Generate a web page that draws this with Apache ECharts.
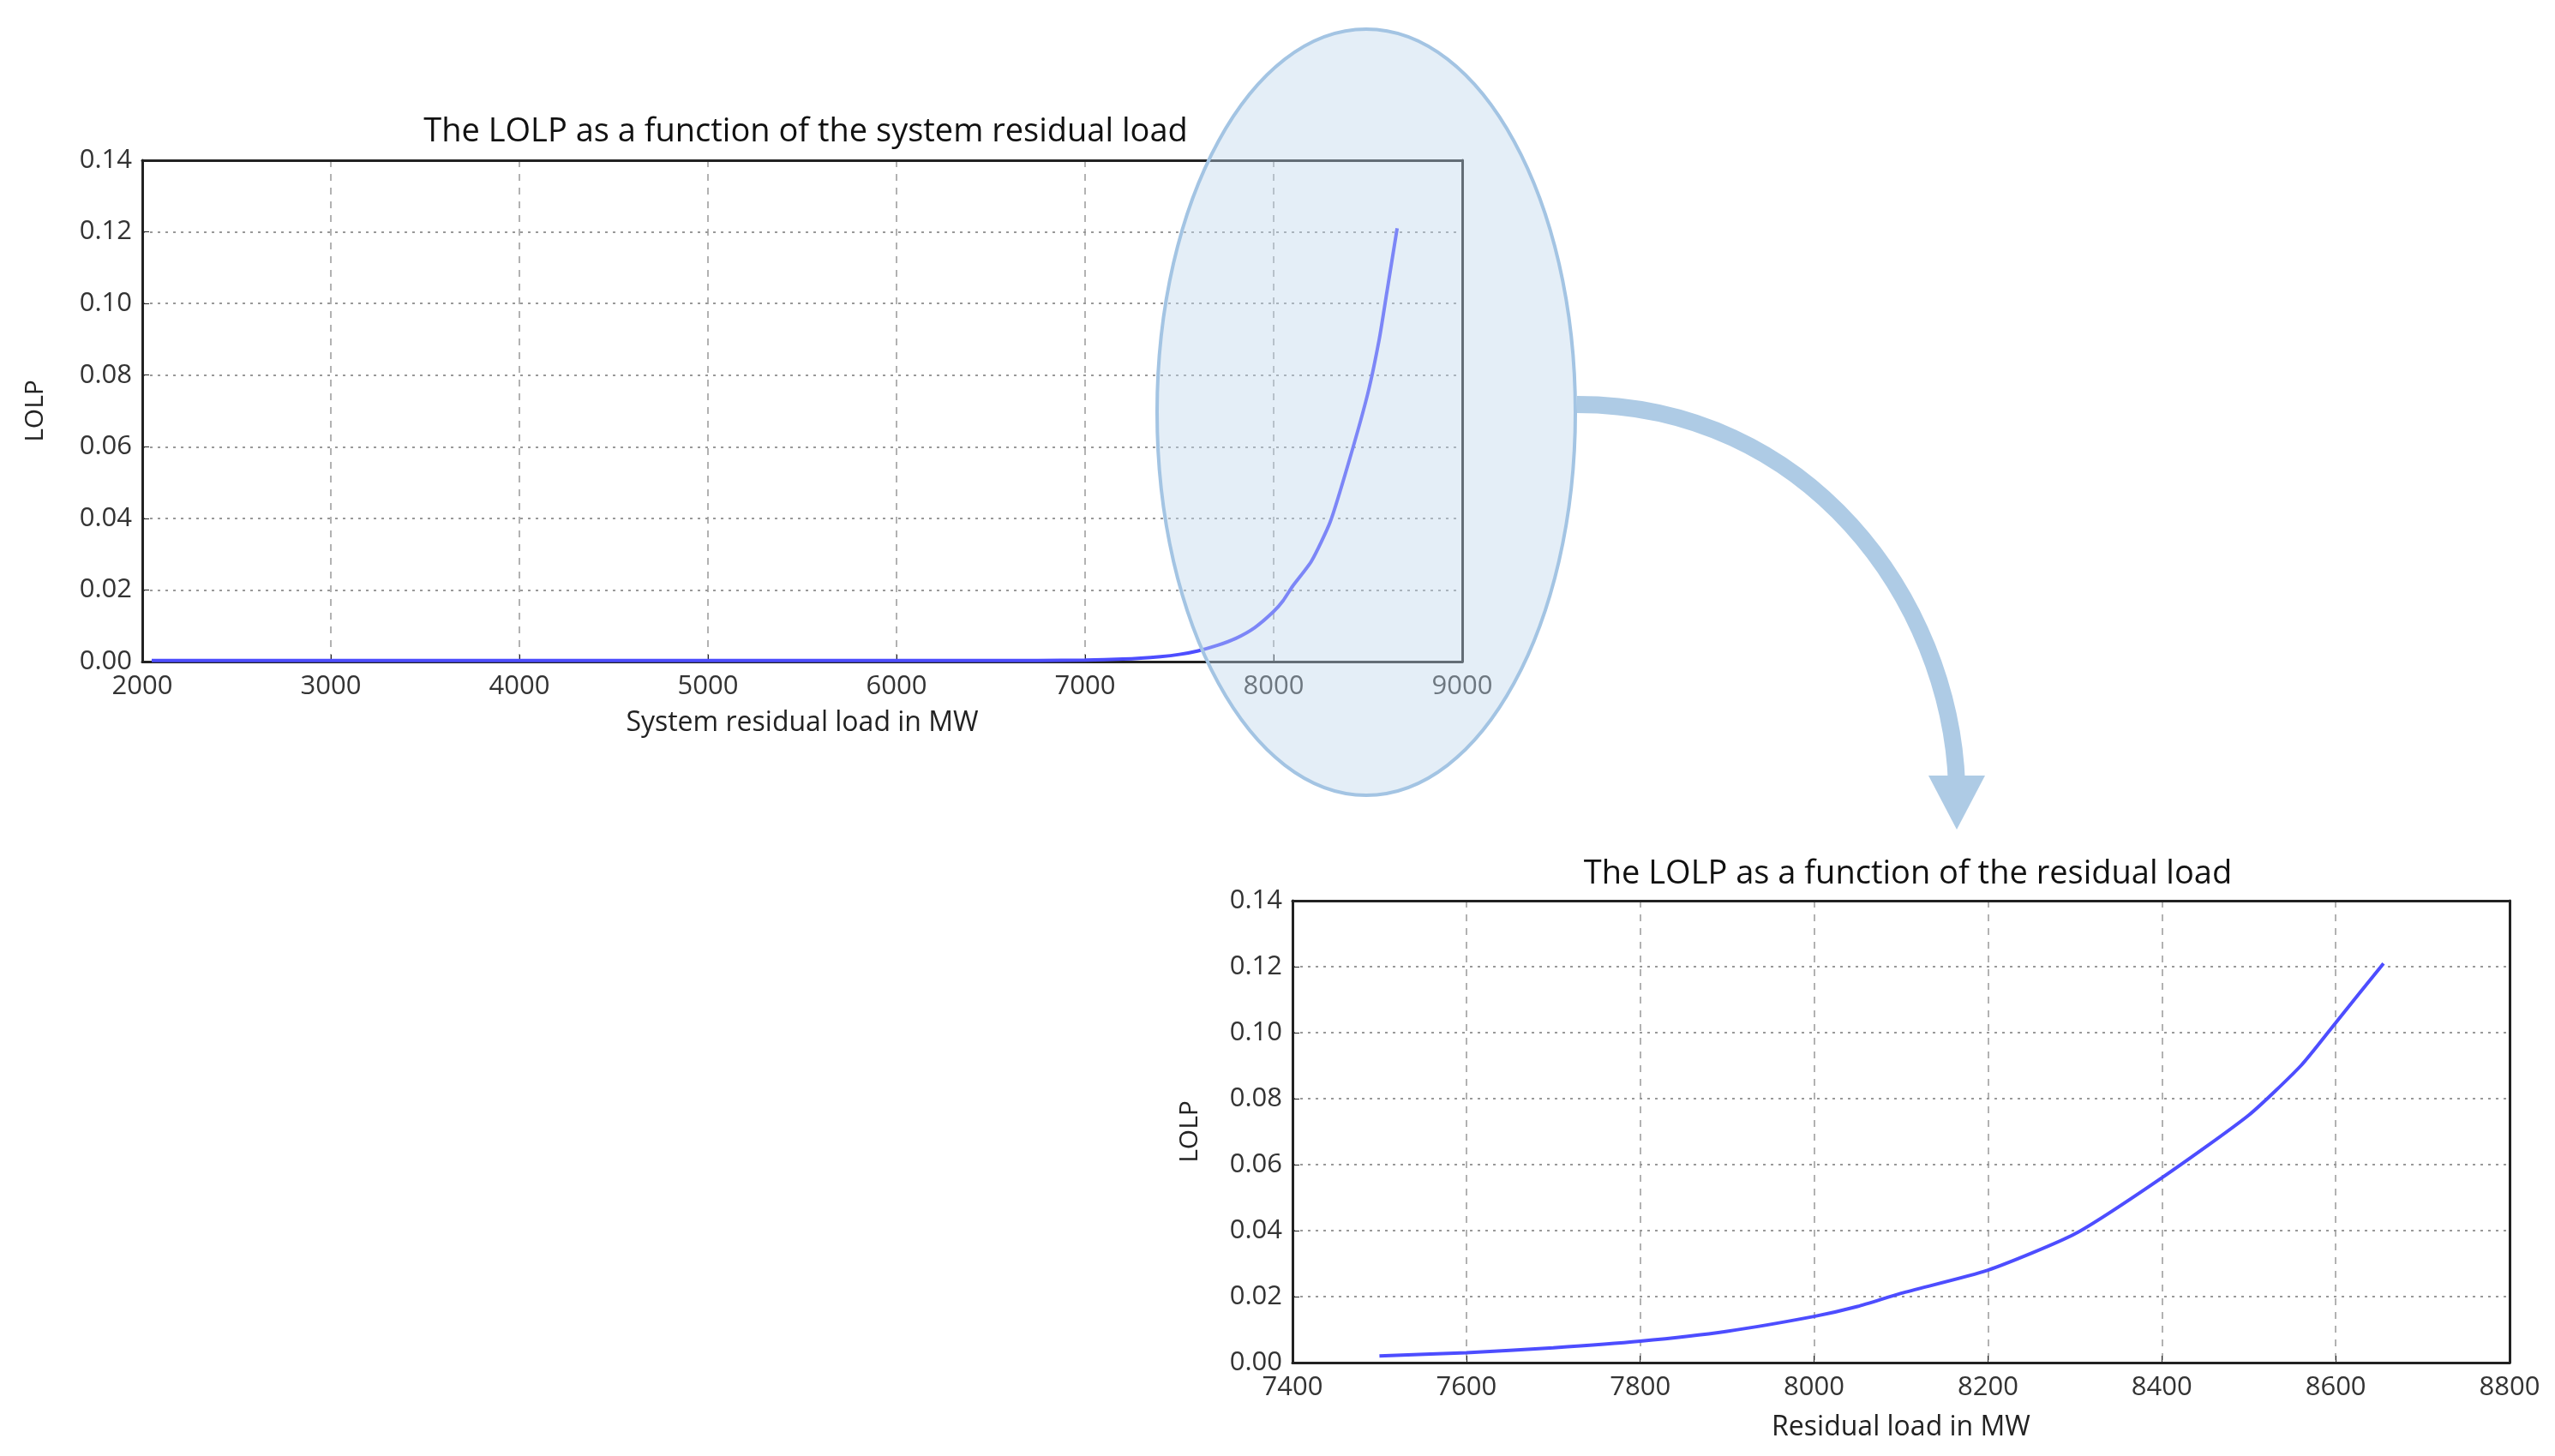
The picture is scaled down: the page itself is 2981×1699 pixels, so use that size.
<!DOCTYPE html>
<html>
<head>
<meta charset="utf-8">
<script src="https://cdn.jsdelivr.net/npm/echarts@6/dist/echarts.min.js"></script>
<style>
html, body { margin: 0; padding: 0; background: #fff; }
#main { width: 2981px; height: 1699px; }
</style>
</head>
<body>
<div id="main"></div>
<script>
// full system residual load curve (MW, LOLP)
var loadAll = [2050, 3000, 4000, 5000, 6000, 6500, 7000, 7200, 7400, 7500, 7600, 7700, 7800, 7900, 8000, 8050, 8100, 8200, 8300, 8400, 8500, 8560, 8600, 8655];
var lolpAll = [0.0003, 0.0003, 0.0003, 0.0003, 0.0003, 0.0003, 0.0004, 0.0007, 0.0014, 0.002, 0.003, 0.0045, 0.0065, 0.0095, 0.014, 0.017, 0.021, 0.028, 0.039, 0.056, 0.075, 0.09, 0.103, 0.121];
// zoomed range
var loadZoom = [7500, 7600, 7700, 7800, 7900, 8000, 8050, 8100, 8200, 8300, 8400, 8500, 8560, 8600, 8655];
var lolpZoom = [0.002, 0.003, 0.0045, 0.0065, 0.0095, 0.014, 0.017, 0.021, 0.028, 0.039, 0.056, 0.075, 0.09, 0.103, 0.121];

var titles = ['The LOLP as a function of the system residual load', 'The LOLP as a function of the residual load'];
var xNames = ['System residual load in MW', 'Residual load in MW'];

function pairs(xs, ys) {
    var out = [];
    for (var i = 0; i < xs.length; i++) out.push([xs[i], ys[i]]);
    return out;
}

var font = 'Open Sans';
var frame = { show: true, onZero: false, lineStyle: { color: '#222', width: 3 } };
function xAxis(idx, min, max, interval, gap) {
    return {
        type: 'value', gridIndex: idx, min: min, max: max, interval: interval,
        name: xNames[idx], nameLocation: 'middle', nameGap: gap,
        nameTextStyle: { fontSize: 32, color: '#222', fontFamily: font },
        axisLine: frame,
        axisTick: { inside: true, length: 8, lineStyle: { color: '#222' } },
        axisLabel: { fontSize: 31, color: '#333', fontFamily: font, margin: 14,
            formatter: function (v) { return String(v); } },
        splitLine: { show: true, lineStyle: { color: '#999', type: [8, 8], width: 1.5 } }
    };
}
function yAxis(idx, gap) {
    return {
        type: 'value', gridIndex: idx, min: 0, max: 0.14, interval: 0.02,
        name: 'LOLP', nameLocation: 'middle', nameGap: gap,
        nameTextStyle: { fontSize: 30, color: '#222', fontFamily: font },
        axisLine: frame,
        axisTick: { inside: true, length: 8, lineStyle: { color: '#222' } },
        axisLabel: { fontSize: 31, color: '#333', fontFamily: font, margin: 12,
            formatter: function (v) { return v.toFixed(2); } },
        splitLine: { show: true, lineStyle: { color: '#999', type: [3, 6], width: 2 } }
    };
}
function edgeX(idx, min, max) {
    return { type: 'value', gridIndex: idx, position: 'top', min: min, max: max,
        axisLine: frame, axisTick: { show: false }, axisLabel: { show: false }, splitLine: { show: false } };
}
function edgeY(idx) {
    return { type: 'value', gridIndex: idx, position: 'right', min: 0, max: 0.14,
        axisLine: frame, axisTick: { show: false }, axisLabel: { show: false }, splitLine: { show: false } };
}

var chart = echarts.init(document.getElementById('main'));
chart.setOption({
    animation: false,
    backgroundColor: '#fff',
    title: [
        { text: titles[0], left: 935, top: 130, textAlign: 'center',
          textStyle: { fontSize: 38, fontWeight: 'normal', color: '#111', fontFamily: font } },
        { text: titles[1], left: 2221, top: 996, textAlign: 'center',
          textStyle: { fontSize: 38, fontWeight: 'normal', color: '#111', fontFamily: font } }
    ],
    grid: [
        { left: 166, top: 187, width: 1540, height: 585 },
        { left: 1508, top: 1051, width: 1420, height: 539 }
    ],
    xAxis: [xAxis(0, 2000, 9000, 1000, 56), xAxis(1, 7400, 8800, 200, 60), edgeX(0, 2000, 9000), edgeX(1, 7400, 8800)],
    yAxis: [yAxis(0, 110), yAxis(1, 105), edgeY(0), edgeY(1)],
    series: [
        { type: 'line', xAxisIndex: 0, yAxisIndex: 0, data: pairs(loadAll, lolpAll),
          smooth: 0.2, showSymbol: false, lineStyle: { color: '#4d4dff', width: 4 } },
        { type: 'line', xAxisIndex: 1, yAxisIndex: 1, data: pairs(loadZoom, lolpZoom),
          smooth: 0.2, showSymbol: false, lineStyle: { color: '#4d4dff', width: 4 } }
    ],
    graphic: [
        { type: 'ellipse', shape: { cx: 1594, cy: 481, rx: 244, ry: 447 }, z: 100,
          style: { fill: 'rgba(190,214,236,0.42)', stroke: '#a3c4e3', lineWidth: 4 } },
        { type: 'bezierCurve', z: 100,
          shape: { x1: 1840, y1: 472, cpx1: 2110, cpy1: 472, cpx2: 2275, cpy2: 700, x2: 2283, y2: 915 },
          style: { stroke: '#aecbe5', lineWidth: 20, fill: null } },
        { type: 'polygon', z: 100,
          shape: { points: [[2250, 905], [2316, 905], [2283, 968]] },
          style: { fill: '#aecbe5' } }
    ]
});
</script>
</body>
</html>
